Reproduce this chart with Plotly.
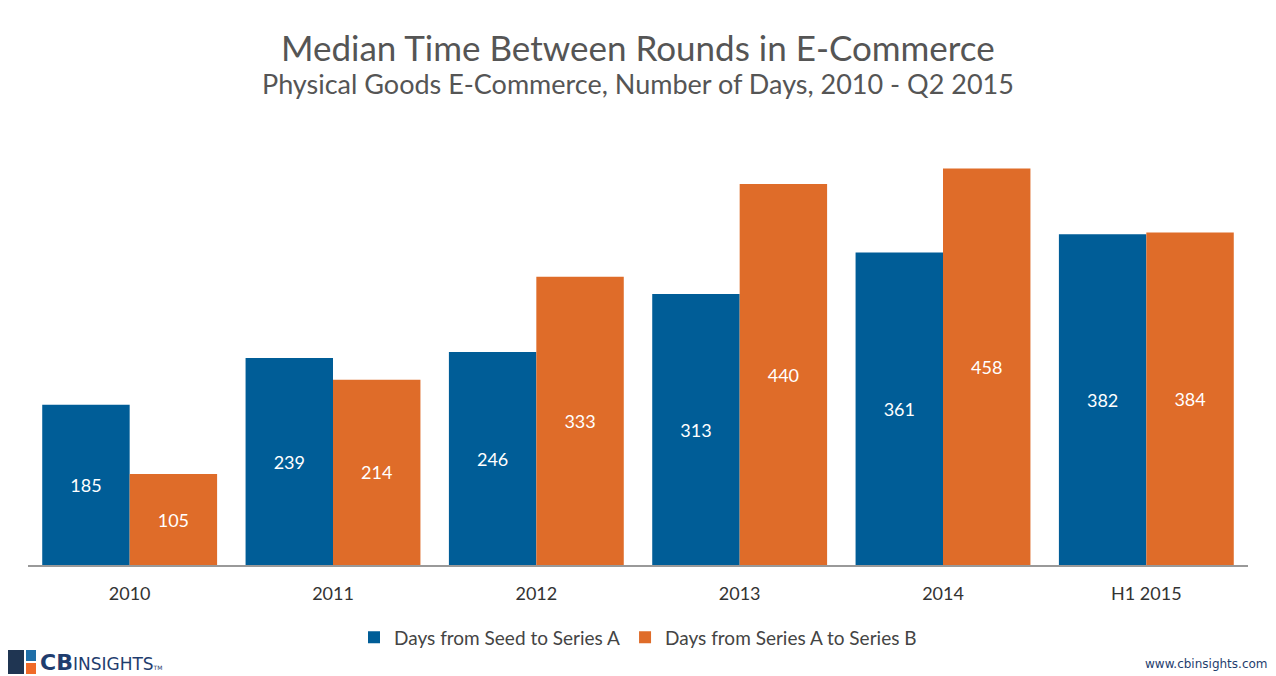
import plotly.graph_objects as go

categories = ["2010", "2011", "2012", "2013", "2014", "H1 2015"]
seed_to_a = [185, 239, 246, 313, 361, 382]
a_to_b = [105, 214, 333, 440, 458, 384]
series_names = ["Days from Seed to Series A", "Days from Series A to Series B"]

FONT = "Lato"
# page is rendered with an 8px body offset; layout values below account for it
L, T, PW, PH = 20, 112, 1220, 445

fig = go.Figure()
fig.add_trace(go.Bar(
    x=categories, y=seed_to_a, name=series_names[0],
    marker=dict(color="#005d97", line=dict(width=0)),
    text=seed_to_a, textposition="inside", insidetextanchor="middle",
    textfont=dict(color="white", size=18, family=FONT),
))
fig.add_trace(go.Bar(
    x=categories, y=a_to_b, name=series_names[1],
    marker=dict(color="#df6c29", line=dict(width=0)),
    text=a_to_b, textposition="inside", insidetextanchor="middle",
    textfont=dict(color="white", size=18, family=FONT),
))

fig.update_layout(
    width=1276, height=676,
    paper_bgcolor="white", plot_bgcolor="white",
    margin=dict(l=L, r=1276 - L - PW, t=T, b=676 - T - PH),
    barmode="group", bargap=0.14, bargroupgap=0,
    font=dict(family=FONT, color="#444"),
    showlegend=True,
    legend=dict(orientation="h", x=0.5, xanchor="center", y=-0.12, yanchor="top",
                font=dict(size=19, color="#444", family=FONT),
                itemwidth=30, traceorder="normal"),
    xaxis=dict(showgrid=False, showline=True, linecolor="#999", linewidth=1.5,
               ticks="", ticklabelstandoff=12,
               tickfont=dict(size=18, color="#333", family=FONT)),
    yaxis=dict(visible=False, range=[0, 514]),
)

def px(xp, yp):
    # screen pixel (reference) -> paper coords
    return (xp - 8 - L) / PW, (T + PH - (yp - 8)) / PH

tx, ty = px(638, 47)
fig.add_annotation(text="Median Time Between Rounds in E-Commerce", xref="paper", yref="paper",
                   x=0.5, y=ty, showarrow=False, xanchor="center", yanchor="middle",
                   font=dict(size=35, color="#555", family=FONT))
tx, ty = px(638, 84)
fig.add_annotation(text="Physical Goods E-Commerce, Number of Days, 2010 - Q2 2015", xref="paper", yref="paper",
                   x=0.5, y=ty, showarrow=False, xanchor="center", yanchor="middle",
                   font=dict(size=27, color="#555", family=FONT))
tx, ty = px(1270, 664)
fig.add_annotation(text="www.cbinsights.com", xref="paper", yref="paper",
                   x=tx, y=ty, showarrow=False, xanchor="right", yanchor="middle",
                   font=dict(size=12, color="#1f3d6e", family="DejaVu Sans"))
tx, ty = px(38, 662)
fig.add_annotation(text="<b>CB</b><span style='font-size:17px'>INSIGHTS</span><span style='font-size:6px'>TM</span>",
                   xref="paper", yref="paper",
                   x=tx, y=ty, showarrow=False, xanchor="left", yanchor="middle",
                   font=dict(size=22, color="#1f3d6e", family="DejaVu Sans"))
# logo icon
for (a, b, c, d, col) in [(4, 650, 24, 674, "#1f3552"), (26, 650, 36, 661, "#1f6fa8"),
                          (26, 663, 36, 674, "#f06a28")]:
    x0, y0 = px(a, b); x1, y1 = px(c, d)
    fig.add_shape(type="rect", xref="paper", yref="paper", x0=x0, y0=y1, x1=x1, y1=y0,
                  fillcolor=col, line=dict(width=0))

fig.write_html("out.html")
